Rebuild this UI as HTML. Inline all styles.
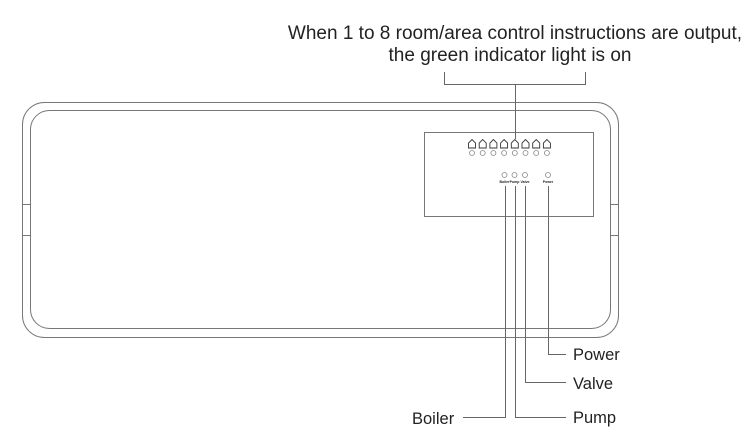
<!DOCTYPE html>
<html><head><style>
html,body{margin:0;padding:0;background:#fff;}
svg{display:block;}
text{font-family:"Liberation Sans",Arial,sans-serif;fill:#222;}
</style></head><body>
<svg width="750" height="445" viewBox="0 0 750 445" xmlns="http://www.w3.org/2000/svg">
<g fill="none" stroke="#777" stroke-width="1">
<rect x="22.5" y="102.5" width="596" height="235" rx="22"/>
<rect x="30.5" y="110.5" width="580" height="218" rx="19"/>
<rect x="22.5" y="204.5" width="8" height="31"/>
<rect x="610.5" y="204.5" width="8" height="31"/>
<rect x="424.5" y="132.5" width="169" height="84"/>
</g>
<g fill="none" stroke="#666" stroke-width="1">
<path d="M444.5 72 V84.5 H585.5 V72"/>
<path d="M515.5 84.5 V139"/>
<path d="M505.5 186 V417.5 H463"/>
<path d="M515.5 186 V417.5 H566"/>
<path d="M525.5 186 V382.5 H566"/>
<path d="M548.5 186 V354.5 H566"/>
</g>
<g fill="#fff" stroke="#333" stroke-width="0.9">
<path d="M468.5 148 v-5 l3.5-3.5 l3.5 3.5 v5 z"/>
<path d="M479.2 148 v-5 l3.5-3.5 l3.5 3.5 v5 z"/>
<path d="M489.9 148 v-5 l3.5-3.5 l3.5 3.5 v5 z"/>
<path d="M500.6 148 v-5 l3.5-3.5 l3.5 3.5 v5 z"/>
<path d="M511.3 148 v-5 l3.5-3.5 l3.5 3.5 v5 z"/>
<path d="M522 148 v-5 l3.5-3.5 l3.5 3.5 v5 z"/>
<path d="M532.7 148 v-5 l3.5-3.5 l3.5 3.5 v5 z"/>
<path d="M543.4 148 v-5 l3.5-3.5 l3.5 3.5 v5 z"/>
</g>
<g fill="none" stroke="#888" stroke-width="0.8">
<circle cx="472" cy="153" r="2.5"/><circle cx="482.7" cy="153" r="2.5"/>
<circle cx="493.4" cy="153" r="2.5"/><circle cx="504.1" cy="153" r="2.5"/>
<circle cx="514.8" cy="153" r="2.5"/><circle cx="525.5" cy="153" r="2.5"/>
<circle cx="536.2" cy="153" r="2.5"/><circle cx="546.9" cy="153" r="2.5"/>
<circle cx="504.5" cy="175" r="2.5"/><circle cx="514.5" cy="175" r="2.5"/>
<circle cx="525" cy="175" r="2.5"/><circle cx="548" cy="175" r="2.5"/>
</g>
<g font-size="3.5" font-weight="bold" text-anchor="middle">
<text x="504.5" y="183">Boiler</text><text x="514.5" y="183">Pump</text>
<text x="525" y="183">Valve</text><text x="548" y="183">Power</text>
</g>
<g font-size="19" text-anchor="middle">
<text x="515" y="39">When 1 to 8 room/area control instructions are output,</text>
<text x="510" y="61">the green indicator light is on</text>
</g>
<g font-size="16.5">
<text x="573" y="360">Power</text>
<text x="573" y="389">Valve</text>
<text x="573" y="423">Pump</text>
<text x="412" y="424">Boiler</text>
</g>
</svg>
</body></html>
